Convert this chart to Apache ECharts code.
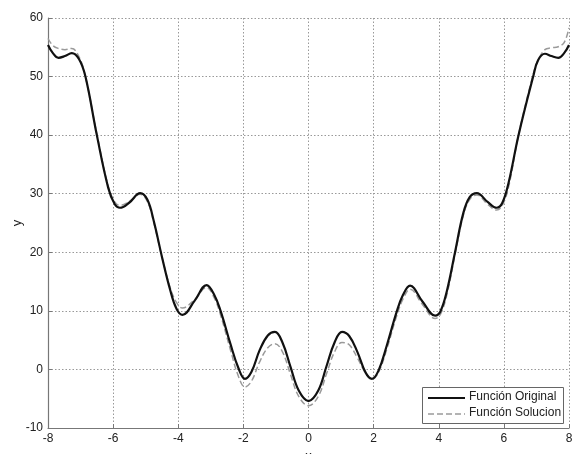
<!DOCTYPE html>
<html>
<head>
<meta charset="utf-8">
<script src="https://cdn.jsdelivr.net/npm/echarts@6/dist/echarts.min.js"></script>
<style>
html,body{margin:0;padding:0;background:#fff;}
#c{width:578px;height:454px;}
</style>
</head>
<body>
<div id="c"></div>
<script>
// x positions (shared by both series)
var xValues = [-8,-7.85,-7.68,-7.48,-7.27,-7.05,-6.85,-6.5,-6.15,-5.95,-5.79,-5.5,-5.17,-4.95,-4.75,-4.5,-4.25,-4.05,-3.87,-3.5,-3.13,-2.9,-2.7,-2.4,-2.15,-1.95,-1.75,-1.5,-1.25,-1.03,-0.8,-0.55,-0.3,0,
  0.3,0.55,0.8,1.03,1.25,1.5,1.75,1.95,2.15,2.4,2.7,2.9,3.12,3.5,3.89,4.05,4.25,4.5,4.75,4.95,5.17,5.5,5.78,5.95,6.15,6.45,6.9,7.05,7.26,7.46,7.67,7.85,8];
// Función Original (solid black)
var original = [55.4,54.0,53.2,53.5,54.0,53.0,50.0,40.0,31.0,28.2,27.6,28.5,30.1,29.0,25.3,19.2,13.6,10.3,9.3,11.7,14.4,12.8,10.0,4.4,0.2,-1.6,-0.4,3.3,5.8,6.4,4.6,0.4,-3.6,-5.4,
  -3.6,0.5,4.6,6.4,5.7,3.0,-0.5,-1.6,-0.2,4.0,9.7,12.7,14.3,11.6,9.2,9.9,13.4,20.0,26.6,29.4,30.1,28.6,27.6,28.4,32.0,40.0,50.0,52.8,53.9,53.5,53.2,54.0,55.4];
// Función Solucion (dashed gray)
var solucion = [56.5,55.3,54.8,54.6,54.8,53.4,50.0,40.2,31.3,28.6,28.0,28.7,29.9,28.7,25.0,19.2,14.0,11.4,10.5,11.9,14.0,12.3,9.3,3.4,-1.2,-3.0,-2.0,1.3,3.7,4.4,3.0,-0.9,-4.6,-6.2,
  -4.6,-0.8,3.0,4.6,4.2,2.0,-0.6,-1.7,-0.5,3.4,9.0,12.0,13.7,11.1,8.7,9.4,12.8,19.6,26.2,29.0,29.8,28.2,27.2,28.0,31.3,40.0,50.4,52.8,54.6,54.9,55.1,55.8,58.3];
var xTicks = [-8,-6,-4,-2,0,2,4,6,8];
var yTicks = [-10,0,10,20,30,40,50,60];
var legendNames = ['Función Original', 'Función Solucion'];

function pairs(xs, ys){ return xs.map(function(x,i){ return [x, ys[i]]; }); }

var chart = echarts.init(document.getElementById('c'), null, {renderer:'canvas'});
var font = 'Liberation Sans, Arial, sans-serif';
chart.setOption({
  animation: false,
  backgroundColor: '#fff',
  grid: {left: 48, top: 18, right: 9, bottom: 26, show: false, containLabel: false, outerBoundsMode: 'none'},
  xAxis: {
    type: 'value', min: xTicks[0], max: xTicks[xTicks.length-1], interval: 2,
    name: 'x', nameLocation: 'middle', nameGap: 21,
    nameTextStyle: {fontFamily: font, fontSize: 13, color: '#222'},
    axisLine: {show: true, onZero: false, lineStyle: {color: '#777', width: 1.2}},
    axisTick: {show: true, inside: true, length: 4, lineStyle: {color: '#777'}},
    axisLabel: {fontFamily: font, fontSize: 12, color: '#222', margin: 5},
    splitLine: {show: true, lineStyle: {color: '#999', type: [1.5, 2], width: 1}}
  },
  yAxis: {
    type: 'value', min: yTicks[0], max: yTicks[yTicks.length-1], interval: 10,
    name: 'y', nameLocation: 'middle', nameGap: 24, nameRotate: 90, nameMoveOverlap: false,
    nameTextStyle: {fontFamily: font, fontSize: 13, color: '#222'},
    axisLine: {show: true, onZero: false, lineStyle: {color: '#777', width: 1.2}},
    axisTick: {show: true, inside: true, length: 4, lineStyle: {color: '#777'}},
    axisLabel: {fontFamily: font, fontSize: 12, color: '#222', margin: 5},
    splitLine: {show: true, lineStyle: {color: '#999', type: [1.5, 2], width: 1}}
  },
  graphic: [
    {type: 'rect', left: 422, top: 387, z: 100,
     shape: {width: 141, height: 36}, style: {fill: '#fff', stroke: '#666', lineWidth: 1}},
    {type: 'line', z: 101, shape: {x1: 428, y1: 398, x2: 465, y2: 398},
     style: {stroke: '#111', lineWidth: 2.2}},
    {type: 'line', z: 101, shape: {x1: 428, y1: 414, x2: 465, y2: 414},
     style: {stroke: '#9a9a9a', lineWidth: 1.5, lineDash: [6, 3]}},
    {type: 'text', z: 101, left: 469, top: 391,
     style: {text: legendNames[0], font: '12px ' + font, fill: '#222'}},
    {type: 'text', z: 101, left: 469, top: 407,
     style: {text: legendNames[1], font: '12px ' + font, fill: '#222'}}
  ],
  series: [
    {
      name: legendNames[1], type: 'line', smooth: 0.4, showSymbol: false, symbol: 'none',
      data: pairs(xValues, solucion), z: 2,
      lineStyle: {color: '#9a9a9a', width: 1.5, type: [6, 3]}
    },
    {
      name: legendNames[0], type: 'line', smooth: 0.4, showSymbol: false, symbol: 'none',
      data: pairs(xValues, original), z: 3,
      lineStyle: {color: '#111', width: 2.2}
    }
  ]
});
</script>
</body>
</html>
